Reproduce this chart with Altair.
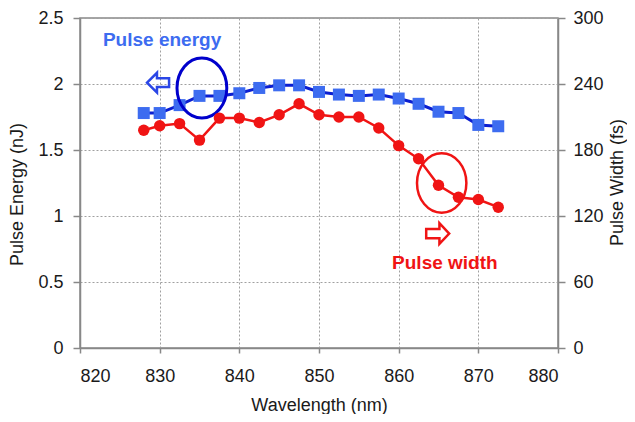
import altair as alt
import pandas as pd

# Data
wavelength = [828, 830, 832.5, 835, 837.5, 840, 842.5, 845, 847.5, 850,
              852.5, 855, 857.5, 860, 862.5, 865, 867.5, 870, 872.5]
pulse_energy = [1.78, 1.78, 1.84, 1.91, 1.91, 1.93, 1.97, 1.99, 1.99, 1.94,
                1.92, 1.91, 1.92, 1.89, 1.85, 1.79, 1.78, 1.69, 1.68]
pulse_width = [198, 202, 204, 189, 209, 209, 205, 212, 222, 212,
               210, 210, 200, 184, 172, 148, 137, 135, 128]

x_ticks = [820, 830, 840, 850, 860, 870, 880]
energy_ticks = [0, 0.5, 1, 1.5, 2, 2.5]
width_ticks = [0, 60, 120, 180, 240, 300]

# Annotation anchors (data coordinates)
energy_label = ["Pulse energy"]
energy_label_x = [830.3]
energy_label_y = [2.29]
energy_ellipse_x = [835.3]
energy_ellipse_y = [1.97]
energy_arrow_x = [829.8]
energy_arrow_y = [2.01]

width_label = ["Pulse width"]
width_label_x = [865.8]
width_label_y = [72]
width_ellipse_x = [865.4]
width_ellipse_y = [150]
width_arrow_x = [864.9]
width_arrow_y = [104]

FONT = "Liberation Sans"
BLUE_MARK = "#3d6cf0"
BLUE_LINE = "#0b1ed0"
BLUE_DARK = "#0000cc"
RED = "#f01414"

ELLIPSE = "M0,-1 A0.83,1 0 1,1 0,1 A0.83,1 0 1,1 0,-1 Z"
LEFT_ARROW = "M-1,0 L-0.1,-0.9 L-0.1,-0.4 L1,-0.4 L1,0.4 L-0.1,0.4 L-0.1,0.9 Z"
RIGHT_ARROW = "M1,0 L0.15,-0.9 L0.15,-0.4 L-1,-0.4 L-1,0.4 L0.15,0.4 L0.15,0.9 Z"

energy_df = pd.DataFrame({"x": wavelength, "y": pulse_energy})
width_df = pd.DataFrame({"x": wavelength, "y": pulse_width})

X = alt.X("x:Q",
          scale=alt.Scale(domain=[820, 880], nice=False, zero=False),
          axis=alt.Axis(values=x_ticks, title="Wavelength (nm)", format="d",
                        tickSize=5, labelPadding=14, titleY=62,
                        titleBaseline="alphabetic", grid=True))

Y_left = alt.Y("y:Q",
               scale=alt.Scale(domain=[0, 2.5], nice=False),
               axis=alt.Axis(values=energy_ticks, title="Pulse Energy (nJ)",
                             format="~g", tickSize=7, labelPadding=10, grid=True,
                             titleX=-63, titleY=176, titleAngle=270,
                             titleBaseline="middle", titleAlign="center"))

Y_right = alt.Y("y:Q",
                scale=alt.Scale(domain=[0, 300], nice=False),
                axis=alt.Axis(values=width_ticks, title="Pulse Width (fs)",
                              orient="right", tickSize=7, labelPadding=8,
                              grid=False, titleX=59, titleY=164,
                              titleAngle=270, titleBaseline="middle",
                              titleAlign="center"))

blue_line = alt.Chart(energy_df).mark_line(color=BLUE_LINE, strokeWidth=3).encode(x=X, y=Y_left)
blue_pts = alt.Chart(energy_df).mark_point(shape="square", filled=True, size=144,
                                           color=BLUE_MARK, opacity=1).encode(x=X, y=Y_left)
blue_ell = alt.Chart(pd.DataFrame({"x": energy_ellipse_x, "y": energy_ellipse_y})).mark_point(
    shape=ELLIPSE, filled=False, size=3600, stroke=BLUE_DARK, strokeWidth=3, opacity=1
).encode(x=X, y=Y_left)
blue_arrow = alt.Chart(pd.DataFrame({"x": energy_arrow_x, "y": energy_arrow_y})).mark_point(
    shape=LEFT_ARROW, filled=False, size=484, stroke="#2a46e6", strokeWidth=2.5, opacity=1
).encode(x=X, y=Y_left)
blue_text = alt.Chart(pd.DataFrame({"x": energy_label_x, "y": energy_label_y, "t": energy_label})).mark_text(
    font=FONT, fontSize=19, fontWeight="bold", color=BLUE_MARK, align="center", baseline="alphabetic"
).encode(x=X, y=Y_left, text="t:N")

red_line = alt.Chart(width_df).mark_line(color=RED, strokeWidth=2.5).encode(x=X, y=Y_right)
red_pts = alt.Chart(width_df).mark_point(shape="circle", filled=True, size=130,
                                         color=RED, opacity=1).encode(x=X, y=Y_right)
red_ell = alt.Chart(pd.DataFrame({"x": width_ellipse_x, "y": width_ellipse_y})).mark_point(
    shape=ELLIPSE, filled=False, size=3540, stroke=RED, strokeWidth=2.5, opacity=1
).encode(x=X, y=Y_right)
red_arrow = alt.Chart(pd.DataFrame({"x": width_arrow_x, "y": width_arrow_y})).mark_point(
    shape=RIGHT_ARROW, filled=False, size=529, stroke=RED, strokeWidth=2.5, opacity=1
).encode(x=X, y=Y_right)
red_text = alt.Chart(pd.DataFrame({"x": width_label_x, "y": width_label_y, "t": width_label})).mark_text(
    font=FONT, fontSize=19, fontWeight="bold", color=RED, align="center", baseline="alphabetic"
).encode(x=X, y=Y_right, text="t:N")

left = alt.layer(blue_line, blue_pts, blue_ell, blue_arrow, blue_text)
right = alt.layer(red_line, red_pts, red_ell, red_arrow, red_text)

chart = alt.layer(left, right).resolve_scale(y="independent").properties(
    width=478, height=330,
    autosize=alt.AutoSizeParams(type="none"),
    padding={"left": 72, "top": 10, "right": 69, "bottom": 66},
    background="white",
).configure_view(
    stroke="#888888", strokeWidth=1.5
).configure_axis(
    labelFont=FONT, titleFont=FONT, labelFontSize=18, titleFontSize=18,
    titleFontWeight="normal", labelColor="#1a1a1a", titleColor="#1a1a1a",
    domainColor="#888888", domainWidth=1.5, tickColor="#888888", tickWidth=1.5,
    gridColor="#a0a0a0", gridDash=[2, 2], gridWidth=1,
)

chart.save("out.html", embed_options={"renderer": "svg", "actions": False})
